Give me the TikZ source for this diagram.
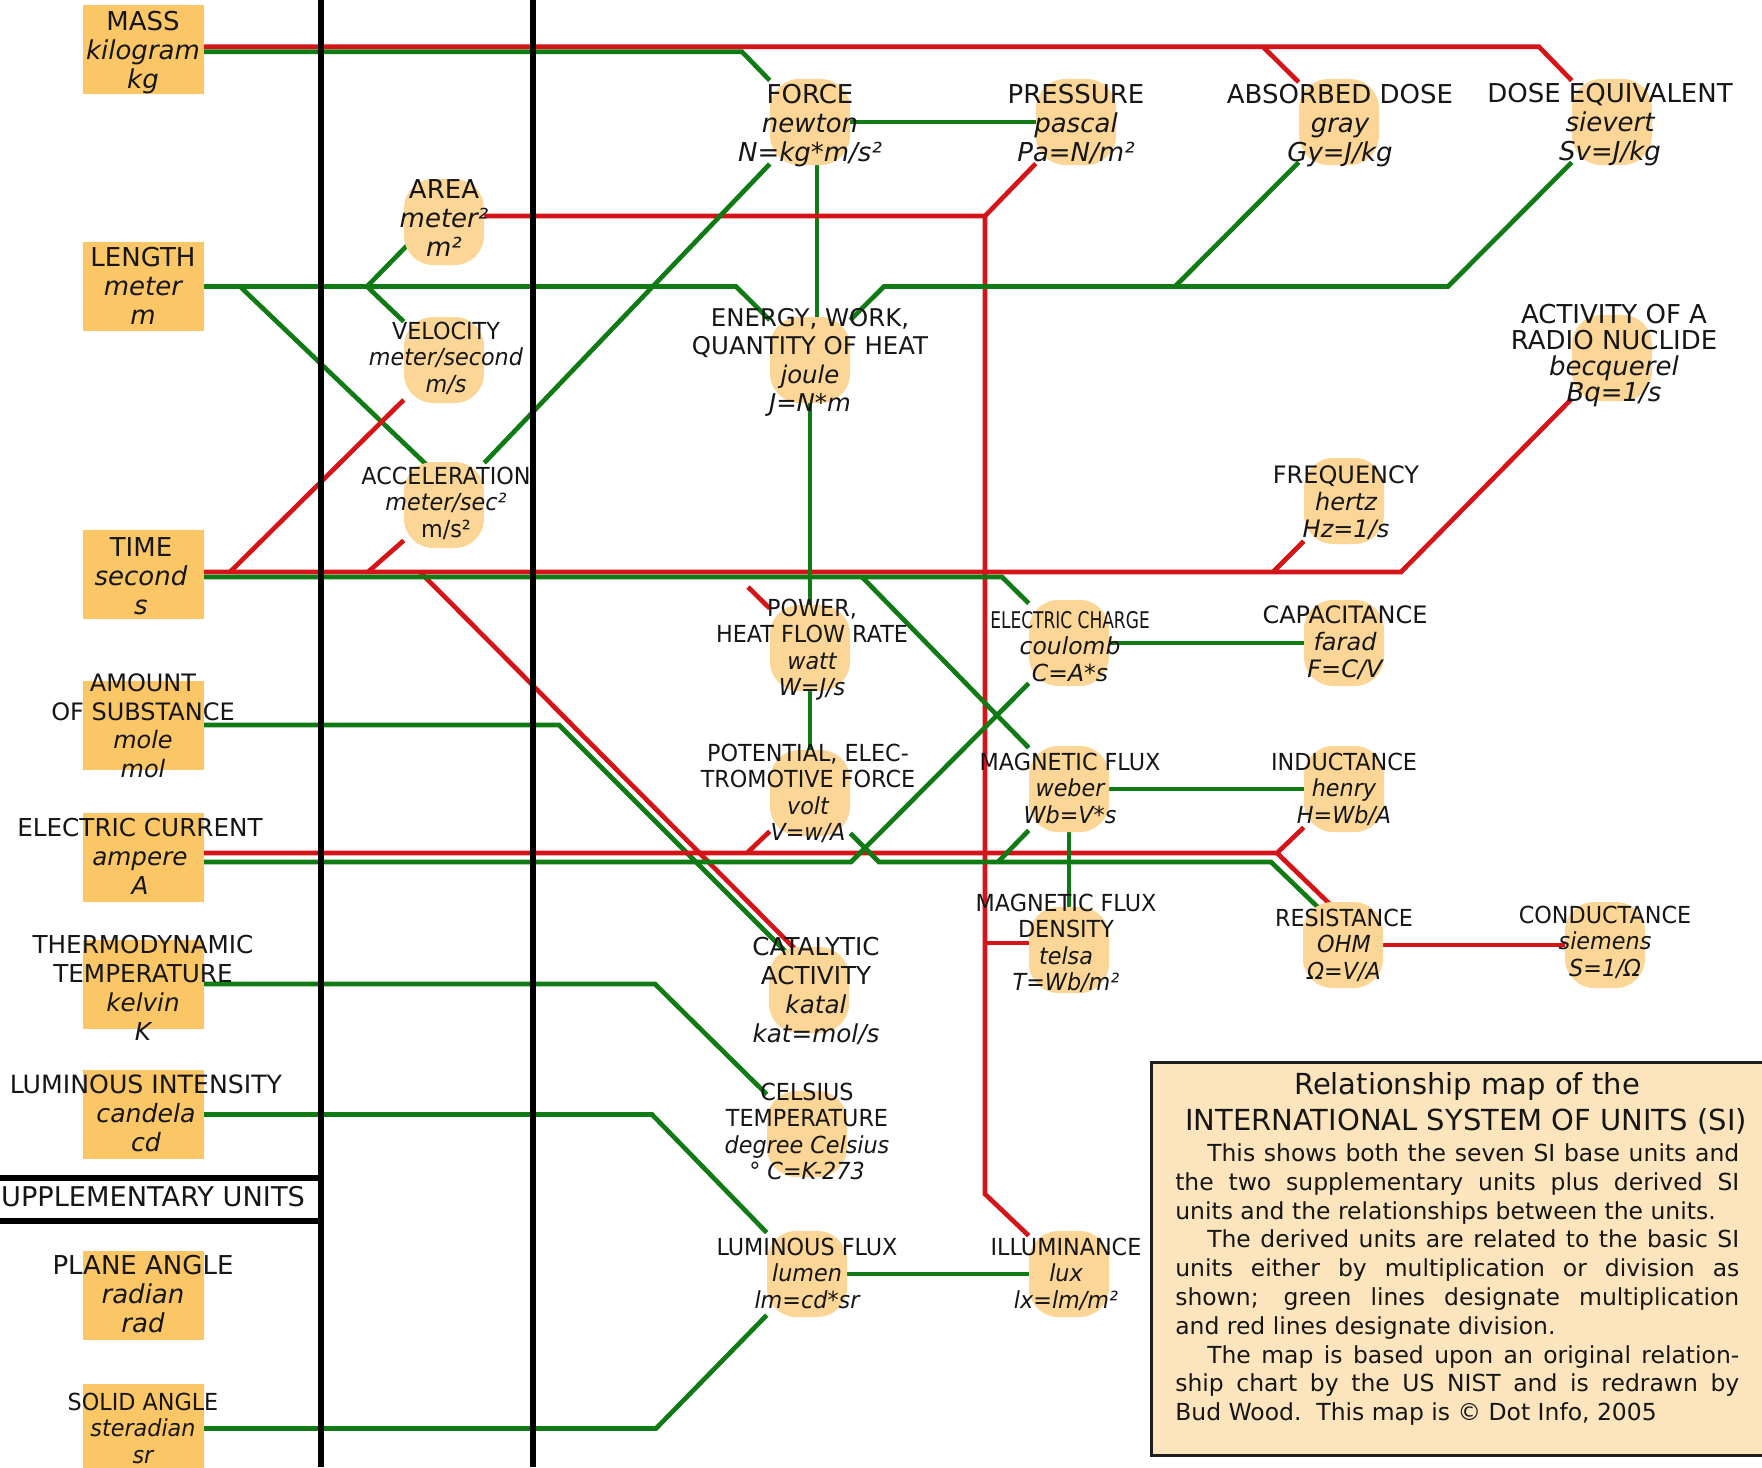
\documentclass[tikz,border=0pt]{standalone}
\usepackage{fontspec}
\setmainfont{DejaVu Sans}
\newfontfamily\fN{DejaVu Sans}
\newfontfamily\fS[FakeStretch=0.95]{DejaVu Sans}
\newfontfamily\fQ[FakeStretch=0.74]{DejaVu Sans}
\usetikzlibrary{calc}
\pgfdeclarelayer{bglayer}
\pgfdeclarelayer{linelayer}
\pgfsetlayers{bglayer,linelayer,main}
\definecolor{rl}{RGB}{212,20,24}
\definecolor{gl}{RGB}{16,122,20}
\definecolor{boxc}{RGB}{251,198,102}
\definecolor{blobc}{RGB}{251,214,150}
\definecolor{legc}{RGB}{252,229,188}
\definecolor{legb}{RGB}{30,30,30}
\definecolor{txt}{RGB}{22,22,22}
\newcommand\szB{\fontsize{19.5}{21.6}\selectfont}
\newcommand\szA{\fontsize{19.5}{19.6}\selectfont}
\newcommand\szM{\fontsize{18.5}{21.8}\selectfont}
\newcommand\szMb{\fontsize{18}{20.2}\selectfont}
\newcommand\szS{\fontsize{17.6}{19.9}\selectfont}
\newcommand\szSw{\fontsize{18}{21.4}\selectfont}
\newcommand\szE{\fontsize{18.3}{21.4}\selectfont}
\newcommand\ui[1]{{\itshape #1}}
\tikzset{
  basebox/.style={rectangle, fill=boxc, minimum width=90.75pt, minimum height=66.75pt, inner sep=0pt, outer sep=0pt},
  blob/.style={rectangle, rounded corners=22pt, fill=blobc, minimum width=60pt, minimum height=64.5pt, inner sep=0pt},
  lab/.style={anchor=base, align=center, inner sep=0pt, text=txt},
  labB/.style={lab, font=\fN\szB},
  labA/.style={lab, font=\fN\szA},
  labM/.style={lab, font=\fN\szM},
  labMb/.style={lab, font=\fN\szMb},
  labS/.style={lab, font=\fS\szS},
  labSw/.style={lab, font=\fN\szSw},
  labE/.style={lab, font=\fN\szE},
  rd/.style={draw=rl, line width=3.5pt},
  gr/.style={draw=gl, line width=3.5pt},
  divider/.style={draw=black, line width=4.9pt},
  hdivider/.style={draw=black, line width=4.2pt},
}
\begin{document}
\begin{tikzpicture}[x=0.75pt, y=-0.75pt]
\begin{pgfonlayer}{bglayer}
\fill[white] (0,0) rectangle (1762,1467);
\end{pgfonlayer}
\useasboundingbox (0,0) rectangle (1762,1467);
\clip (0,0) rectangle (1762,1467);

% ---------- base unit boxes ----------
\node[basebox] (mass) at (143.5,49.3) {};
\node[basebox] (length) at (143.5,286.5) {};
\node[basebox] (time) at (143.5,574.5) {};
\node[basebox] (amount) at (143.5,725) {};
\node[basebox] (current) at (143.5,857.5) {};
\node[basebox] (thermo) at (143.5,984) {};
\node[basebox] (lumint) at (143.5,1114.5) {};
\node[basebox] (plane) at (143.5,1295) {};
\node[basebox] (solid) at (143.5,1428.5) {};

% ---------- derived unit blobs ----------
\node[blob] (A) at (444,222) {};
\node[blob] (V) at (444,360) {};
\node[blob] (Ac) at (444,505) {};
\node[blob] (F) at (810,122) {};
\node[blob] (P) at (1076,122) {};
\node[blob] (Gy) at (1339,122) {};
\node[blob] (Sv) at (1612,122) {};
\node[blob] (E) at (810,360) {};
\node[blob] (Bq) at (1612,358) {};
\node[blob] (Hz) at (1344,501) {};
\node[blob] (W) at (810,648) {};
\node[blob] (C) at (1069,643) {};
\node[blob] (Fa) at (1344,643) {};
\node[blob] (Vo) at (810,793) {};
\node[blob] (Wb) at (1069,789) {};
\node[blob] (H) at (1344,789) {};
\node[blob] (T) at (1069,950) {};
\node[blob] (O) at (1343,945) {};
\node[blob] (Si) at (1605,945) {};
\node[blob] (K) at (809,990) {};
\node[blob] (Ce) at (807,1134) {};
\node[blob] (Lm) at (807,1274) {};
\node[blob] (Lx) at (1069,1274) {};

\coordinate (powstart) at (748,587);

% ---------- connectors ----------
\begin{pgfonlayer}{linelayer}
% mass
\draw[rd] ($(mass.east)+(0,-2.5)$) -- (1539,46.8) -- (Sv);
\draw[rd] (1263,46.8) -- (Gy);
\draw[gr] ($(mass.east)+(0,2.5)$) -- (742,51.8) -- (F);
\draw[gr] (F) -- (P);
\draw[gr] ($(F)+(7,0)$) -- ($(E)+(7,0)$);
% area / pressure / illuminance
\draw[rd] ($(A)+(0,-6)$) -- (985,216) -- (P);
\draw[rd] (985,216) -- (985,1194) -- (Lx);
\draw[rd] (985,943) -- ($(T)+(0,-7)$);
% length
\draw[gr] (length.east) -- (736,286.5) -- (E);
\draw[gr] (E) -- (884,286.5) -- (1448,286.5) -- (Sv);
\draw[gr] (1175,286.5) -- (Gy);
\draw[gr] (240,286.5) -- ($(Ac)+(-12,-35)$);
\draw[gr] (367,286.5) -- ($(A)+(-14,0)$);
\draw[gr] (367,286.5) -- (V);
% time
\draw[rd] ($(time.east)+(0,-2.5)$) -- (1401,572) -- (Bq);
\draw[rd] (1273,572) -- (Hz);
\draw[rd] (230,572) -- (V);
\draw[rd] (368,572) -- (Ac);
\draw[rd] (powstart) -- (W);
\draw[rd] (420,572) -- ($(K)+(-11,-38)$);
\draw[gr] ($(time.east)+(0,2.5)$) -- (1002,577) -- (C);
\draw[gr] (862,577) -- (Wb);
\draw[gr] (Ac) -- (F);
\draw[gr] (E) -- (W);
\draw[gr] (W) -- (Vo);
% amount
\draw[gr] (amount.east) -- (559,725) -- ($(K)+(-13,-28)$);
% current
\draw[rd] ($(current.east)+(0,-4.5)$) -- (1277,853) -- (H);
\draw[rd] (1277,853) -- ($(O)+(-6,-34)$);
\draw[rd] (747,853) -- (Vo);
\draw[gr] ($(current.east)+(0,4.5)$) -- (851,862) -- (C);
\draw[gr] (Vo) -- (879,862) -- (1271,862) -- ($(O)+(-16,-29)$);
\draw[gr] (Wb) -- (998,862);
\draw[gr] (Wb) -- (T);
\draw[gr] (C) -- (Fa);
\draw[gr] (Wb) -- (H);
\draw[rd] (O) -- (Si);
% temperature, light
\draw[gr] (thermo.east) -- (655,984) -- (Ce);
\draw[gr] (lumint.east) -- (652,1114.5) -- (Lm);
\draw[gr] (solid.east) -- (656,1428.5) -- (Lm);
\draw[gr] (Lm) -- (Lx);
\end{pgfonlayer}

% ---------- dividers ----------
\draw[divider] (321,0) -- (321,1467);
\draw[divider] (533,0) -- (533,1467);
\draw[hdivider] (0,1178) -- (321,1178);
\draw[hdivider] (0,1221) -- (321,1221);

% ---------- labels: base units (anchor = baseline of last line) ----------
\node[labB] (tmass) at (143,88.0) {MASS\\\ui{kilogram}\\\ui{kg}};
\node[labB] (tlength) at (143,324.0) {LENGTH\\\ui{meter}\\\ui{m}};
\node[labB] (ttime) at (141,614.0) {TIME\\\ui{second}\\\ui{s}};
\node[labSw] (tamount) at (143,777.2) {AMOUNT\\OF SUBSTANCE\\\ui{mole}\\\ui{mol}};
\node[labM] (tcurrent) at (140,894.7) {ELECTRIC CURRENT\\\ui{ampere}\\\ui{A}};
\node[labM] (tthermo) at (143,1040.8) {THERMODYNAMIC\\TEMPERATURE\\\ui{kelvin}\\\ui{K}};
\node[lab, font=\fN\fontsize{18.9}{21.8}\selectfont] (tlumint) at (146,1151.7) {LUMINOUS INTENSITY\\\ui{candela}\\\ui{cd}};
\node[lab, font=\fN\fontsize{20.4}{21.6}\selectfont] (tsupp) at (153,1206.6) {UPPLEMENTARY UNITS};
\node[labB] (tplane) at (143,1332.0) {PLANE ANGLE\\\ui{radian}\\\ui{rad}};
\node[labS] (tsolid) at (143,1463.4) {SOLID ANGLE\\\ui{steradian}\\\ui{sr}};

% ---------- labels: derived units ----------
\node[labB] (tA) at (444,256.0) {AREA\\\ui{meter²}\\\ui{m²}};
\node[labS] (tV) at (446,392.4) {VELOCITY\\\ui{meter/second}\\\ui{m/s}};
\node[labS] (tAc) at (446,537.4) {ACCELERATION\\\ui{meter/sec²}\\m/s²};
\node[labB] (tF) at (810,161.0) {FORCE\\\ui{newton}\\\ui{N=kg*m/s²}};
\node[labB] (tP) at (1076,161.0) {PRESSURE\\\ui{pascal}\\\ui{Pa=N/m²}};
\node[labB] (tGy) at (1340,161.0) {ABSORBED DOSE\\\ui{gray}\\\ui{Gy=J/kg}};
\node[labB] (tSv) at (1610,160.0) {DOSE EQUIVALENT\\\ui{sievert}\\\ui{Sv=J/kg}};
\node[labE] (tE) at (810,411.9) {ENERGY, WORK,\\QUANTITY OF HEAT\\\ui{joule}\\\ui{J=N*m}};
\node[labA] (tBq) at (1614,401.8) {ACTIVITY OF A\\RADIO NUCLIDE\\\ui{becquerel}\\\ui{Bq=1/s}};
\node[labMb] (tHz) at (1346,537.5) {FREQUENCY\\\ui{hertz}\\\ui{Hz=1/s}};
\node[labS] (tW) at (812,695.9) {POWER,\\HEAT FLOW RATE\\\ui{watt}\\\ui{W=J/s}};
\node[labS] (tC) at (1070,681.4) {{\fQ\fontsize{17.25}{19.9}\selectfont ELECTRIC CHARGE}\\{\fN\itshape coulomb}\\{\fN\itshape C=A*s}};
\node[labMb] (tFa) at (1345,677.5) {CAPACITANCE\\\ui{farad}\\\ui{F=C/V}};
\node[labS] (tVo) at (808,840.9) {POTENTIAL, ELEC-\\TROMOTIVE FORCE\\\ui{volt}\\\ui{V=w/A}};
\node[labS] (tWb) at (1070,823.4) {MAGNETIC FLUX\\\ui{weber}\\\ui{Wb=V*s}};
\node[labS] (tH) at (1344,823.4) {INDUCTANCE\\\ui{henry}\\\ui{H=Wb/A}};
\node[labS] (tT) at (1066,990.9) {MAGNETIC FLUX\\DENSITY\\\ui{telsa}\\\ui{T=Wb/m²}};
\node[labS] (tO) at (1344,979.4) {RESISTANCE\\\ui{OHM}\\\ui{Ω=V/A}};
\node[labS] (tSi) at (1605,976.4) {CONDUCTANCE\\\ui{siemens}\\\ui{S=1/Ω}};
\node[labM] (tK) at (816,1042.8) {CATALYTIC\\ACTIVITY\\\ui{katal}\\\ui{kat=mol/s}};
\node[labS] (tCe) at (807,1179.9) {CELSIUS\\TEMPERATURE\\\ui{degree Celsius}\\\ui{° C=K-273}};
\node[labS] (tLm) at (807,1308.4) {LUMINOUS FLUX\\\ui{lumen}\\\ui{lm=cd*sr}};
\node[labS] (tLx) at (1066,1308.4) {ILLUMINANCE\\\ui{lux}\\\ui{lx=lm/m²}};

% ---------- legend ----------
\draw[draw=legb, line width=2.25pt, fill=legc] (1151,1062) rectangle (1768,1455);
\node[anchor=base, inner sep=0pt, text=txt, font=\fN\fontsize{21.75}{26}\selectfont] (ttl1) at (1467,1094) {Relationship map of the};
\node[anchor=base, inner sep=0pt, text=txt, font=\fN\fontsize{21.75}{26}\selectfont] (ttl2) at (1466,1130.5) {INTERNATIONAL SYSTEM OF UNITS (SI)};
\node[anchor=base west, inner sep=0pt, align=left, text=txt, font=\fN\fontsize{17.6}{21.6}\selectfont] (body) at (1175,1420.7) {%
\hspace*{24pt}\makebox[399pt][s]{This shows both the seven SI base units and}\\
\makebox[423pt][s]{the two supplementary units plus derived SI}\\
units and the relationships between the units.\\
\hspace*{24pt}\makebox[399pt][s]{The derived units are related to the basic SI}\\
\makebox[423pt][s]{units either by multiplication or division as}\\
\makebox[423pt][s]{shown; green lines designate multiplication}\\
and red lines designate division.\\
\hspace*{24pt}\makebox[399pt][s]{The map is based upon an original relation-}\\
\makebox[423pt][s]{ship chart by the US NIST and is redrawn by}\\
Bud Wood.\ \ This map is © Dot Info, 2005};
\end{tikzpicture}
\end{document}
